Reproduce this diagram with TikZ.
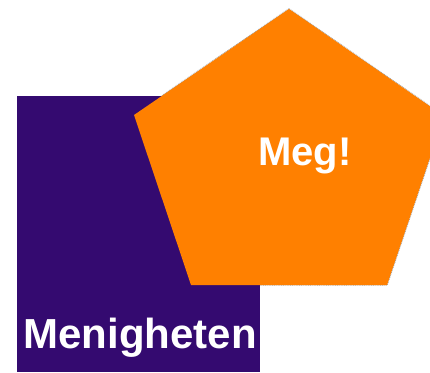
\documentclass[tikz,border=0pt]{standalone}
\usepackage{fontspec}
\setmainfont{Liberation Sans}
\definecolor{deeppurple}{RGB}{52,10,112}
\definecolor{pentorange}{RGB}{255,128,0}
\tikzset{
  lbl/.style={text=white, font=\fontsize{41}{48}\selectfont\bfseries, inner sep=0pt, anchor=base},
}
\begin{document}
\begin{tikzpicture}[x=1pt,y=-1pt]
\useasboundingbox (0,0) rectangle (430,372);
\clip (0,0) rectangle (430,372);
\coordinate (pt) at (289,9);
\coordinate (pr) at (444,116);
\coordinate (pbr) at (387,285);
\coordinate (pbl) at (191,285);
\coordinate (pl) at (134,115);
% outline (visible only against white)
\draw[gray!70, line width=1.4pt, dash pattern=on 1pt off 0.8pt] (pt) -- (pr) -- (pbr) -- (pbl) -- (pl) -- cycle;
% purple square
\fill[deeppurple] (17,96) rectangle (260,372);
% pentagon
\fill[pentorange] (pt) -- (pr) -- (pbr) -- (pbl) -- (pl) -- cycle;
\node[lbl, font=\fontsize{40}{48}\selectfont\bfseries] (meg) at (305,165) {Meg!};
\node[lbl, font=\fontsize{42}{48}\selectfont\bfseries] (menigheten) at (140,348) {Menigheten};
\end{tikzpicture}
\end{document}
